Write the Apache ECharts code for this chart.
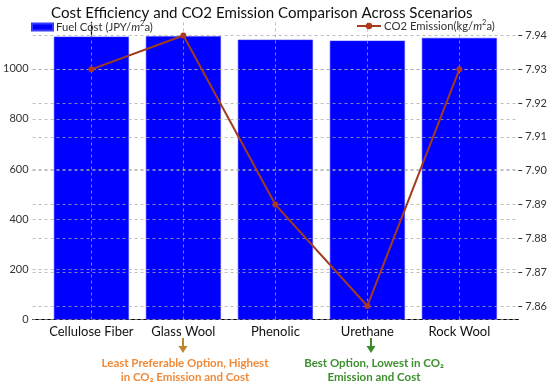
<!DOCTYPE html>
<html><head><meta charset="utf-8">
<script src="https://cdn.jsdelivr.net/npm/echarts@6/dist/echarts.min.js"></script>
<style>html,body{margin:0;padding:0;background:#fff}#c{width:550px;height:386px}</style>
</head><body><div id="c"></div>
<script>
var categories = ['Cellulose Fiber', 'Glass Wool', 'Phenolic', 'Urethane', 'Rock Wool'];
var fuelCost = [1128, 1130, 1116, 1112, 1123];
var co2Emission = [7.93, 7.94, 7.89, 7.86, 7.93];
var leftTicks = [0, 200, 400, 600, 800, 1000];
var rightTicks = [7.86, 7.87, 7.88, 7.89, 7.90, 7.91, 7.92, 7.93, 7.94];
var catIdx = categories.map(function (c, i) { return i; });

var FONT = 'Lato';
var gridStyle = { color: 'rgba(170,170,170,0.75)', type: [3, 3], width: 1 };
var legRich = { a: { fontSize: 11.3, color: '#333', fontFamily: FONT }, i: { fontSize: 11.3, fontStyle: 'italic', color: '#333', fontFamily: FONT }, s: { fontSize: 7.5, color: '#333', fontFamily: FONT, padding: [0, 0, 6, 0] } };

var chart = echarts.init(document.getElementById('c'), null, { renderer: 'canvas' });
chart.setOption({
  animation: false,
  backgroundColor: '#fff',
  textStyle: { fontFamily: FONT },
  title: {
    text: 'Cost Efficiency and CO2 Emission Comparison Across Scenarios',
    left: 46, top: 1,
    textStyle: { fontFamily: FONT, fontSize: 15.1, fontWeight: 'normal', color: '#111' }
  },
  legend: [{
    data: ['Fuel Cost'], left: 31, top: 20, itemWidth: 21, itemHeight: 7, padding: 0,
    icon: 'rect',
    formatter: function () { return '{a|Fuel Cost (JPY/}{i|m}{s|2}{a|a)}'; },
    textStyle: { fontFamily: FONT, fontSize: 11.3, color: '#333', padding: [0, 0, 0, -2], rich: legRich }
  }, {
    data: ['CO2 Emission'], left: 356, top: 19, itemWidth: 24, itemHeight: 8, padding: 0,
    formatter: function () { return '{a|CO2 Emission(kg/}{i|m}{s|2}{a|a)}'; },
    textStyle: { fontFamily: FONT, fontSize: 11.3, color: '#333', padding: [0, 0, 0, -2], rich: legRich }
  }],
  grid: { left: 29, right: 27, top: 22, bottom: 66.5, containLabel: false },
  xAxis: {
    type: 'value', min: -0.64, max: 4.64,
    axisLine: { show: true, onZero: false, lineStyle: { color: '#000', width: 1.2 } },
    axisTick: { show: false },
    splitLine: { show: false },
    axisLabel: { customValues: catIdx, margin: 6, fontSize: 13, color: '#111', fontFamily: FONT,
      formatter: function (v) { return categories[Math.round(v)]; } }
  },
  yAxis: [{
    type: 'value', min: 0, max: 1186.5, position: 'left',
    axisLine: { show: true, lineStyle: { color: '#000', width: 1.2 } },
    axisTick: { show: true, customValues: leftTicks, length: 3, lineStyle: { color: '#000' } },
    axisLabel: { customValues: leftTicks, fontSize: 11, color: '#333', margin: 4, fontFamily: FONT,
      formatter: function (v) { return String(v); } },
    splitLine: { show: false }
  }, {
    type: 'value', min: 7.856, max: 7.944, position: 'right',
    axisLine: { show: false },
    axisTick: { show: true, customValues: rightTicks, length: 4, lineStyle: { color: '#333' } },
    axisLabel: { customValues: rightTicks, fontSize: 11, color: '#333', margin: 7, fontFamily: FONT,
      formatter: function (v) { return v.toFixed(2); } },
    splitLine: { show: false }
  }],
  series: [{
    name: 'Fuel Cost', type: 'bar', yAxisIndex: 0, z: 1,
    barWidth: 75,
    itemStyle: { color: '#0000ff', borderColor: '#3a3aff', borderWidth: 0.5 },
    data: fuelCost.map(function (v, i) { return [i, v]; }),
    markLine: {
      silent: true, symbol: ['none', 'none'], z: 2, label: { show: false },
      lineStyle: gridStyle, emphasis: { disabled: true },
      data: leftTicks.map(function (t) { return { yAxis: t }; })
        .concat(catIdx.map(function (i) { return { xAxis: i }; }))
    }
  }, {
    name: 'CO2 Emission', type: 'line', yAxisIndex: 1, z: 3,
    symbol: 'circle', symbolSize: 6,
    lineStyle: { color: '#a23c1e', width: 2 },
    itemStyle: { color: '#b0381c' },
    data: co2Emission.map(function (v, i) { return [i, v]; }),
    markLine: {
      silent: true, symbol: ['none', 'none'], z: 2, label: { show: false },
      lineStyle: gridStyle, emphasis: { disabled: true },
      data: rightTicks.map(function (t) { return { yAxis: t }; })
    }
  }],
  graphic: [
    { type: 'line', shape: { x1: 183, y1: 338, x2: 183, y2: 348 }, style: { stroke: '#c0862a', lineWidth: 2 } },
    { type: 'polygon', shape: { points: [[178.5, 346], [187.5, 346], [183, 353]] }, style: { fill: '#c0862a' } },
    { type: 'text', x: 185, y: 370, style: { text: 'Least Preferable Option, Highest\nin CO₂ Emission and Cost', align: 'center', verticalAlign: 'middle', fill: '#ef8a3a', font: 'bold 11.5px Lato', lineHeight: 14 } },
    { type: 'line', shape: { x1: 371, y1: 338, x2: 371, y2: 348 }, style: { stroke: '#3c8a2c', lineWidth: 2 } },
    { type: 'polygon', shape: { points: [[366.5, 346], [375.5, 346], [371, 353]] }, style: { fill: '#3c8a2c' } },
    { type: 'text', x: 374, y: 370, style: { text: 'Best Option, Lowest in CO₂\nEmission and Cost', align: 'center', verticalAlign: 'middle', fill: '#3f8f30', font: 'bold 11.5px Lato', lineHeight: 14 } }
  ]
});
</script></body></html>
